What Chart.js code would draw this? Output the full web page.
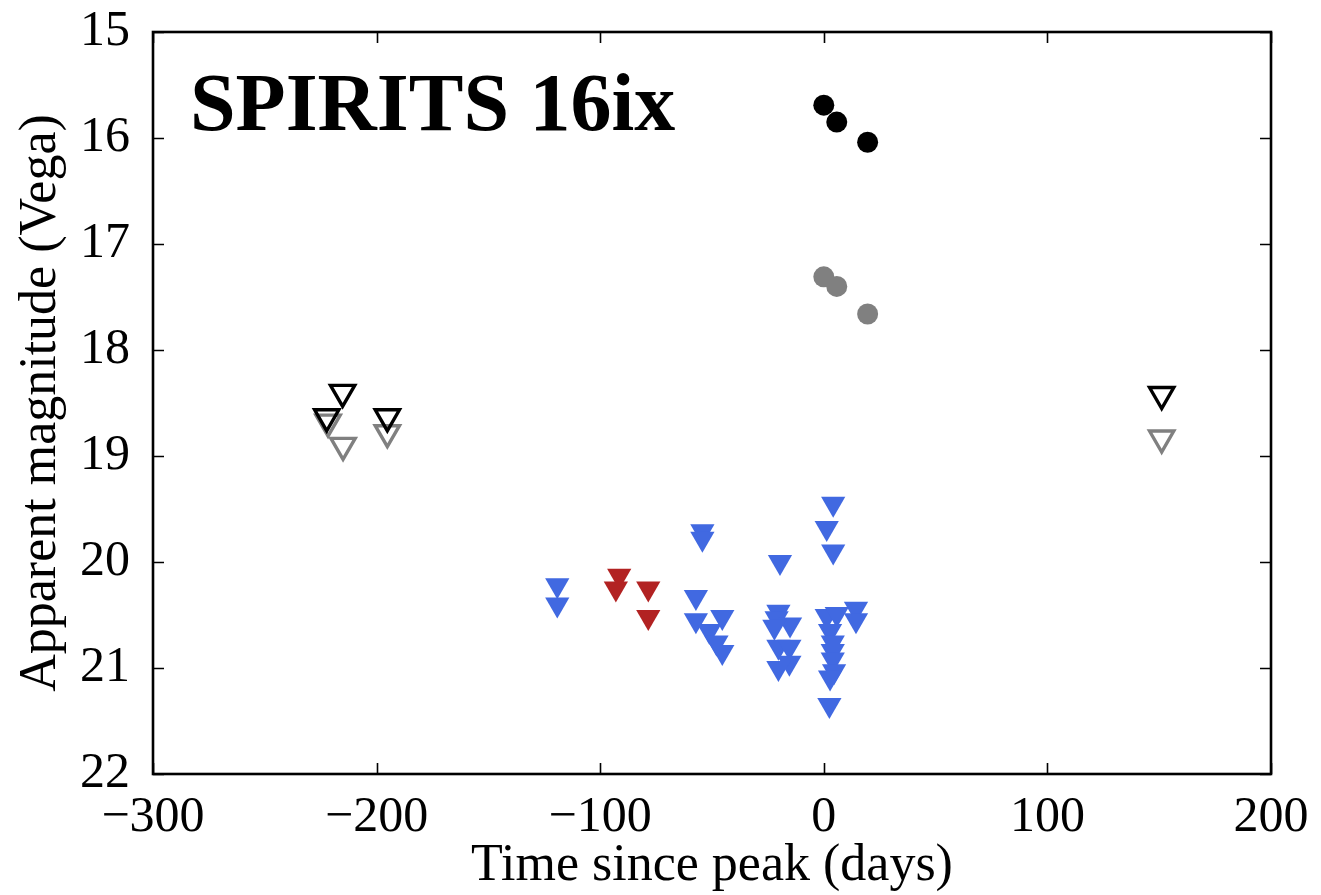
<!DOCTYPE html>
<html>
<head>
<meta charset="utf-8">
<script src="https://cdn.jsdelivr.net/npm/chart.js@4/dist/chart.umd.min.js"></script>
<style>
  html, body { margin: 0; padding: 0; background: #fff; }
  #wrap { width: 1321px; height: 895px; }
</style>
</head>
<body>
<div id="wrap"><canvas id="lc"></canvas></div>
<script>
// days since peak / Vega magnitudes
var detDays = [0, 5.8, 19.6];
var blackDetMags = [15.69, 15.85, 16.04];
var grayDetMags = [17.31, 17.40, 17.66];

var blackLimDays = [-222.3, -215.2, -195.2, 151.1];
var blackLimMags = [18.63, 18.40, 18.63, 18.42];
var grayLimDays = [-221.7, -215.0, -195.2, 151.1];
var grayLimMags = [18.68, 18.90, 18.78, 18.83];

var redLimDays = [-91.5, -93.0, -78.5, -78.5];
var redLimMags = [20.13, 20.25, 20.25, 20.52];

var blueLimDays = [-119.2, -119.2, -54.3, -54.3, -57.2, -57.2, -45.4, -51.2, -48.0, -45.4,
  -19.6, -20.3, -21.1, -15.1, -22.1, -20.3, -15.4, -15.4, -20.3,
  4.2, 1.3, 4.2, 1.3, 5.8, 2.8, 4.0, 4.0, 4.0, 4.6, 2.8, 2.5, 14.4, 14.4];
var blueLimMags = [20.22, 20.40, 19.71, 19.78, 20.33, 20.55, 20.52, 20.65, 20.76, 20.85,
  20.00, 20.47, 20.53, 20.59, 20.61, 20.80, 20.80, 20.95, 21.00,
  19.45, 19.68, 19.90, 20.51, 20.49, 20.65, 20.76, 20.84, 20.92, 21.03, 21.09, 21.35, 20.44, 20.55];

var xTicks = [-300, -200, -100, 0, 100, 200];
var yTicks = [15, 16, 17, 18, 19, 20, 21, 22];

var serif = "'Liberation Serif', 'Times New Roman', serif";

var pts = function(xs, ys){
  var out = [];
  for(var i = 0; i < xs.length; i++){
    out.push({x: xs[i], y: ys[i]});
  }
  return out;
};

var tri = function(label, xs, ys, fill, edge, bw, r){
  return {
    label: label,
    data: pts(xs, ys),
    pointStyle: 'triangle',
    rotation: 180,
    pointRadius: r,
    backgroundColor: fill,
    borderColor: edge,
    borderWidth: bw
  };
};

// frame + inward ticks on all four sides, plus the big label
var framePlugin = {
  id: 'frame',
  afterDraw: function(chart){
    var ctx = chart.ctx;
    var a = chart.chartArea;
    var xs = chart.scales.x, ys = chart.scales.y;
    ctx.save();
    ctx.strokeStyle = '#000';
    ctx.lineWidth = 1.6;
    ctx.beginPath();
    for(var i = 0; i < xTicks.length; i++){
      var px = Math.round(xs.getPixelForValue(xTicks[i])) + 0.5;
      ctx.moveTo(px, a.bottom); ctx.lineTo(px, a.bottom - 11);
      ctx.moveTo(px, a.top); ctx.lineTo(px, a.top + 11);
    }
    for(var j = 0; j < yTicks.length; j++){
      var py = Math.round(ys.getPixelForValue(yTicks[j])) + 0.5;
      ctx.moveTo(a.left, py); ctx.lineTo(a.left + 11, py);
      ctx.moveTo(a.right, py); ctx.lineTo(a.right - 11, py);
    }
    ctx.stroke();
    ctx.lineWidth = 2.6;
    ctx.strokeRect(a.left, a.top, a.right - a.left, a.bottom - a.top);

    ctx.fillStyle = '#000';
    ctx.font = "bold 82px " + serif;
    ctx.textBaseline = 'alphabetic';
    ctx.textAlign = 'left';
    ctx.fillText('SPIRITS 16ix', a.left + 37, 130);
    ctx.restore();
  }
};

new Chart(document.getElementById('lc'), {
  type: 'scatter',
  data: {
    datasets: [
      {label: 'black det', data: pts(detDays, blackDetMags), pointStyle: 'circle', pointRadius: 10.5, backgroundColor: '#000', borderColor: '#000', borderWidth: 0},
      {label: 'gray det', data: pts(detDays, grayDetMags), pointStyle: 'circle', pointRadius: 10.5, backgroundColor: '#808080', borderColor: '#808080', borderWidth: 0},
      tri('black lim', blackLimDays, blackLimMags, 'rgba(255,255,255,0)', '#000', 3.4, 14),
      tri('gray lim', grayLimDays, grayLimMags, 'rgba(255,255,255,0)', '#808080', 3.4, 14),
      tri('red lim', redLimDays, redLimMags, '#b22222', '#b22222', 0, 14),
      tri('blue lim', blueLimDays, blueLimMags, '#4169e1', '#4169e1', 0, 14)
    ]
  },
  options: {
    responsive: true,
    maintainAspectRatio: false,
    animation: false,
    events: [],
    layout: {padding: {left: 0, top: 32, right: 50, bottom: 0}},
    plugins: {legend: {display: false}, tooltip: {enabled: false}},
    scales: {
      x: {
        type: 'linear',
        min: -300,
        max: 200,
        afterBuildTicks: function(s){ s.ticks = xTicks.map(function(v){ return {value: v}; }); },
        afterFit: function(s){ s.height = 121; s.paddingLeft = 0; s.paddingRight = 0; },
        grid: {display: false},
        border: {display: false},
        ticks: {
          color: '#000',
          padding: 6,
          maxRotation: 0,
          font: {family: serif, size: 50},
          callback: function(v){ return v < 0 ? '\u2212' + Math.abs(v) : '' + v; }
        },
        title: {display: true, text: 'Time since peak (days)', color: '#000', font: {family: serif, size: 52, lineHeight: 1}, padding: {top: 0, bottom: 3}}
      },
      y: {
        type: 'linear',
        min: 15,
        max: 22,
        reverse: true,
        afterBuildTicks: function(s){ s.ticks = yTicks.map(function(v){ return {value: v}; }); },
        afterFit: function(s){ s.width = 153; s.paddingTop = 0; s.paddingBottom = 0; },
        grid: {display: false},
        border: {display: false},
        ticks: {color: '#000', padding: 15, font: {family: serif, size: 50}},
        title: {display: true, text: 'Apparent magnitude (Vega)', color: '#000', font: {family: serif, size: 52, lineHeight: 1}, padding: {top: 15, bottom: 0}}
      }
    }
  },
  plugins: [framePlugin]
});
</script>
</body>
</html>
